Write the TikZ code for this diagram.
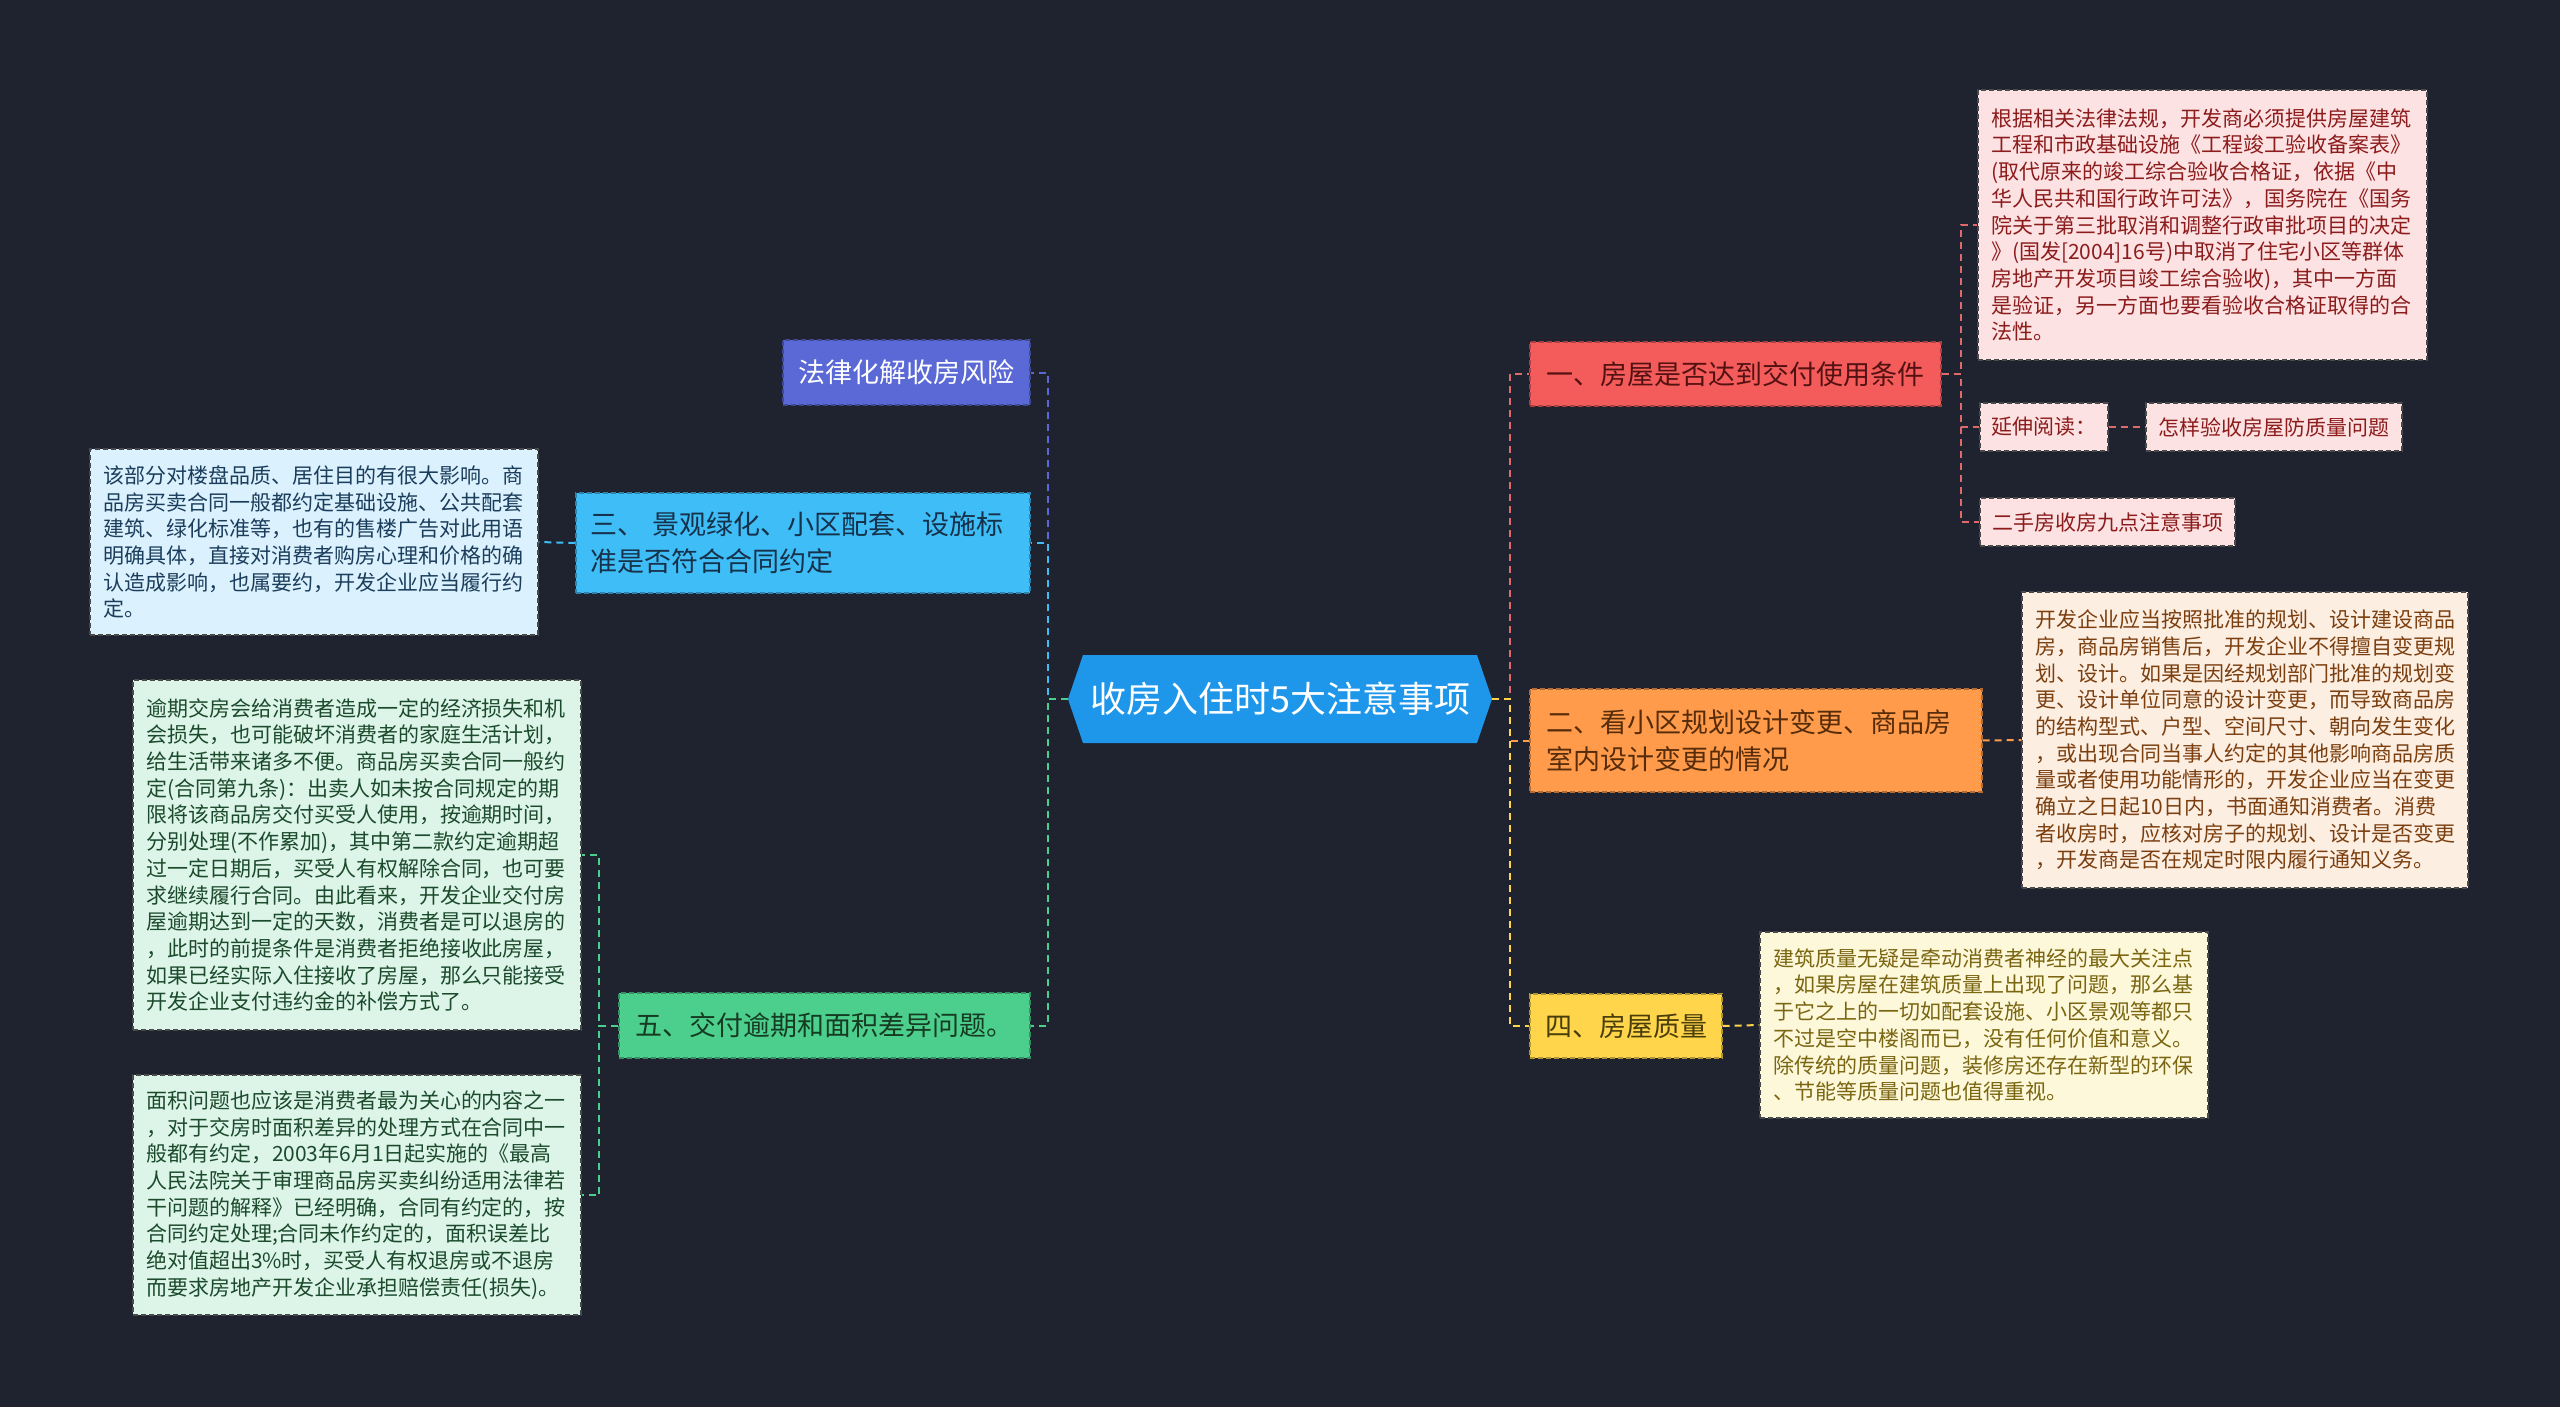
\documentclass[tikz,border=0pt]{standalone}
\usepackage{fontspec}
\setmainfont{Noto Sans CJK SC}
\definecolor{bg}{HTML}{1F2330}
\definecolor{cblue}{HTML}{1E96EA}
\definecolor{cpurple}{HTML}{5A69D6}
\definecolor{ccyan}{HTML}{3FBDF7}
\definecolor{cgreen}{HTML}{4CCF8D}
\definecolor{cred}{HTML}{F45B5B}
\definecolor{corange}{HTML}{FF9B4B}
\definecolor{cyellow}{HTML}{FFD54C}
\definecolor{lred}{HTML}{E06A6A}
\definecolor{fpink}{HTML}{FDE2E3}
\definecolor{tpink}{HTML}{8C1C1C}
\definecolor{forange}{HTML}{FDEEE2}
\definecolor{torange}{HTML}{7B3F0F}
\definecolor{fyellow}{HTML}{FDF8DA}
\definecolor{tyellow}{HTML}{7A6511}
\definecolor{fcyan}{HTML}{DBF1FD}
\definecolor{tcyan}{HTML}{1B3D5C}
\definecolor{fgreen}{HTML}{DDF5E8}
\definecolor{tgreen}{HTML}{1B4A2C}
\definecolor{detborder}{HTML}{4A4A4A}
\begin{document}
\begin{tikzpicture}[x=1pt,y=-1pt,
  mainbox/.style={rectangle, draw, dash pattern=on 5pt off 3pt, line width=1.2pt,
    font=\fontsize{27}{37}\selectfont, inner xsep=14pt, inner ysep=0pt},
  detbox/.style={rectangle, draw=detborder, dash pattern=on 5pt off 3pt, line width=1.2pt,
    font=\fontsize{21}{26.7}\selectfont, inner xsep=13pt, inner ysep=0pt, align=left},
  linkbox/.style={rectangle, fill=fpink, draw=detborder, dash pattern=on 5pt off 3pt, line width=1.2pt,
    font=\fontsize{21}{26}\selectfont, text=tpink, inner xsep=8pt, inner ysep=0pt, minimum height=48pt},
  conn/.style={dash pattern=on 7pt off 5pt, line width=2pt}]
\fill[bg] (0,0) rectangle (2560,1407);
\useasboundingbox (0,0) rectangle (2560,1407);

% centre hexagon
\fill[cblue] (1068,699) -- (1083,655) -- (1477,655) -- (1492,699) -- (1477,743) -- (1083,743) -- cycle;
\node (c) [minimum width=424pt, minimum height=88pt, inner sep=0pt, text=white,
  font=\fontsize{36}{40}\selectfont] at (1280,699) {收房入住时5大注意事项};

% main branches
\node (law) [mainbox, fill=cpurple, draw=cpurple!70!black, text=white, minimum width=247pt, minimum height=65pt] at (906.5,372.5) {法律化解收房风险};
\node (n3) [mainbox, fill=ccyan, draw=ccyan!70!black, text=tcyan!80!black, minimum width=454pt, minimum height=100pt, text width=426pt, align=left] at (803,543) {三、 景观绿化、小区配套、设施标\\准是否符合合同约定};
\node (n5) [mainbox, fill=cgreen, draw=cgreen!70!black, text=tgreen!80!black, minimum width=411pt, minimum height=65pt] at (824.5,1025.5) {五、交付逾期和面积差异问题。};
\node (n1) [mainbox, fill=cred, draw=cred!70!black, text=tpink!60!black, minimum width=411pt, minimum height=64pt] at (1735.5,374) {一、房屋是否达到交付使用条件};
\node (n2) [mainbox, fill=corange, draw=corange!70!black, text=torange!70!black, minimum width=452pt, minimum height=103pt, inner xsep=16pt, text width=420pt, align=left] at (1756,740.5) {二、看小区规划设计变更、商品房\\室内设计变更的情况};
\node (n4) [mainbox, fill=cyellow, draw=cyellow!70!black, text=tyellow!60!black, minimum width=192pt, minimum height=64pt] at (1626,1026) {四、房屋质量};

% detail boxes
\node (d1) [detbox, fill=fpink, text=tpink, minimum width=449pt, minimum height=270pt, text width=423pt] at (2202.5,225) {根据相关法律法规，开发商必须提供房屋建筑\\工程和市政基础设施《工程竣工验收备案表》\\(取代原来的竣工综合验收合格证，依据《中\\华人民共和国行政许可法》，国务院在《国务\\院关于第三批取消和调整行政审批项目的决定\\》(国发[2004]16号)中取消了住宅小区等群体\\房地产开发项目竣工综合验收)，其中一方面\\是验证，另一方面也要看验收合格证取得的合\\法性。};
\node (l1) [linkbox, minimum width=128pt] at (2044,427) {延伸阅读：};
\node (l2) [linkbox, minimum width=256pt] at (2274,427) {怎样验收房屋防质量问题};
\node (l3) [linkbox, minimum width=255pt] at (2107.5,522) {二手房收房九点注意事项};

\node (d2) [detbox, fill=forange, text=torange, minimum width=446pt, minimum height=296pt, text width=420pt] at (2245,740) {开发企业应当按照批准的规划、设计建设商品\\房，商品房销售后，开发企业不得擅自变更规\\划、设计。如果是因经规划部门批准的规划变\\更、设计单位同意的设计变更，而导致商品房\\的结构型式、户型、空间尺寸、朝向发生变化\\，或出现合同当事人约定的其他影响商品房质\\量或者使用功能情形的，开发企业应当在变更\\确立之日起10日内，书面通知消费者。消费\\者收房时，应核对房子的规划、设计是否变更\\，开发商是否在规定时限内履行通知义务。};

\node (d4) [detbox, fill=fyellow, text=tyellow, minimum width=448pt, minimum height=186pt, text width=422pt] at (1984,1025) {建筑质量无疑是牵动消费者神经的最大关注点\\，如果房屋在建筑质量上出现了问题，那么基\\于它之上的一切如配套设施、小区景观等都只\\不过是空中楼阁而已，没有任何价值和意义。\\除传统的质量问题，装修房还存在新型的环保\\、节能等质量问题也值得重视。};

\node (d3) [detbox, fill=fcyan, text=tcyan, minimum width=448pt, minimum height=186pt, text width=422pt] at (314,542) {该部分对楼盘品质、居住目的有很大影响。商\\品房买卖合同一般都约定基础设施、公共配套\\建筑、绿化标准等，也有的售楼广告对此用语\\明确具体，直接对消费者购房心理和价格的确\\认造成影响，也属要约，开发企业应当履行约\\定。};

\node (d5a) [detbox, fill=fgreen, text=tgreen, minimum width=448pt, minimum height=350pt, text width=422pt] at (357,855) {逾期交房会给消费者造成一定的经济损失和机\\会损失，也可能破坏消费者的家庭生活计划，\\给生活带来诸多不便。商品房买卖合同一般约\\定(合同第九条)：出卖人如未按合同规定的期\\限将该商品房交付买受人使用，按逾期时间，\\分别处理(不作累加)，其中第二款约定逾期超\\过一定日期后，买受人有权解除合同，也可要\\求继续履行合同。由此看来，开发企业交付房\\屋逾期达到一定的天数，消费者是可以退房的\\，此时的前提条件是消费者拒绝接收此房屋，\\如果已经实际入住接收了房屋，那么只能接受\\开发企业支付违约金的补偿方式了。};

\node (d5b) [detbox, fill=fgreen, text=tgreen, minimum width=448pt, minimum height=240pt, text width=422pt] at (357,1195) {面积问题也应该是消费者最为关心的内容之一\\，对于交房时面积差异的处理方式在合同中一\\般都有约定，2003年6月1日起实施的《最高\\人民法院关于审理商品房买卖纠纷适用法律若\\干问题的解释》已经明确，合同有约定的，按\\合同约定处理;合同未作约定的，面积误差比\\绝对值超出3\%时，买受人有权退房或不退房\\而要求房地产开发企业承担赔偿责任(损失)。};

% connectors from centre
\draw[conn, cpurple] (c.west) -- ++(-20,0) |- (law.east);
\draw[conn, ccyan] (c.west) -- ++(-20,0) |- (n3.east);
\draw[conn, cgreen] (c.west) -- ++(-20,0) |- (n5.east);
\draw[conn, lred] (c.east) -- ++(18,0) |- (n1.west);
\draw[conn, corange] (c.east) -- ++(18,0) |- (n2.west);
\draw[conn, cyellow] (c.east) -- ++(18,0) |- (n4.west);

% second level
\draw[conn, lred] (n1.east) -- ++(19,0) |- (d1.west);
\draw[conn, lred] (n1.east) -- ++(19,0) |- (l1.west);
\draw[conn, lred] (n1.east) -- ++(19,0) |- (l3.west);
\draw[conn, lred] (l1.east) -- (l2.west);
\draw[conn, corange] (n2.east) -- (d2.west);
\draw[conn, cyellow] (n4.east) -- (d4.west);
\draw[conn, ccyan] (n3.west) -- (d3.east);
\draw[conn, cgreen] (n5.west) -- ++(-19,0) |- (d5a.east);
\draw[conn, cgreen] (n5.west) -- ++(-19,0) |- (d5b.east);
\end{tikzpicture}
\end{document}
